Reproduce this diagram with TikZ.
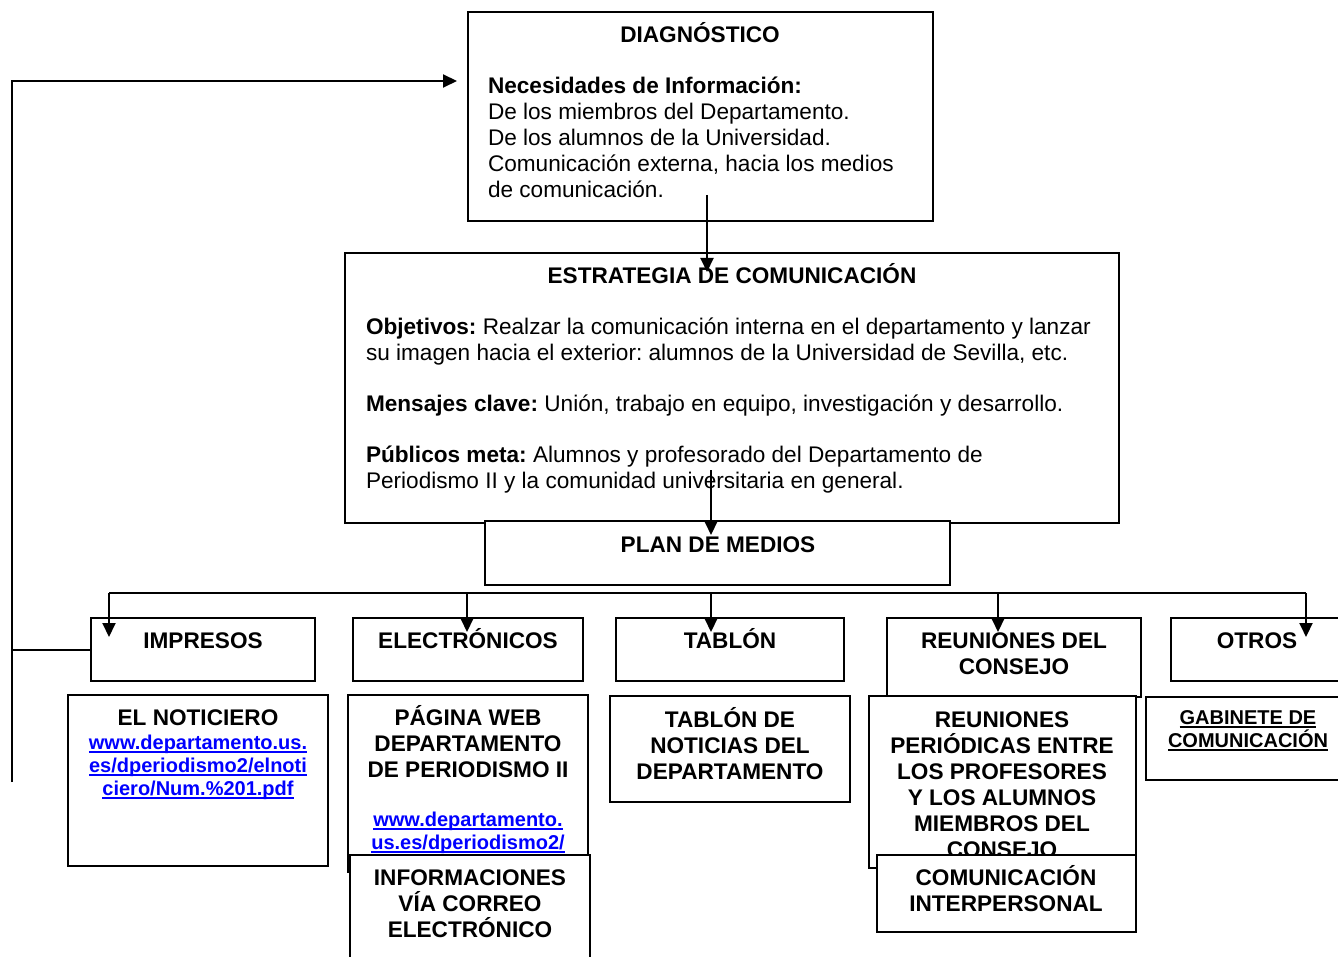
\documentclass[tikz,border=0pt]{standalone}
\usepackage{fontspec}
\setmainfont{Liberation Sans}
\usetikzlibrary{arrows.meta,fit}
\definecolor{linkblue}{RGB}{0,0,255}
\newcommand\bfont{\fontsize{11.3}{13}\selectfont\frenchspacing}
\newcommand\sfont{\fontsize{10}{11.5}\selectfont\frenchspacing}
\newcommand\fl{\rule{0pt}{10pt}}
\newcommand\ulk[1]{\setbox0\hbox{#1}\rlap{\rule[-1.7pt]{\wd0}{0.9pt}}\box0}
\begin{document}
\begin{tikzpicture}[x=0.5pt,y=-0.5pt,line width=1pt,
  box/.style={draw,line width=1pt,fill=white,inner sep=0pt},
  lbl/.style={inner sep=0pt,anchor=north,align=center,font=\bfont\bfseries,yshift=0.6pt},
  body/.style={inner sep=0pt,anchor=north west,align=left,font=\bfont,yshift=0.6pt},
  lnk/.style={inner sep=0pt,anchor=north,align=center,font=\sfont\bfseries,text=linkblue,yshift=0.6pt},
  arr/.style={-{Triangle[length=7pt,width=6.5pt]},line width=1pt}]
\useasboundingbox (0,0) rectangle (1338,957);
\clip (0,0) rectangle (1338,957);
% ---------- top boxes
\node[box,fit={(468,12) (933,221)}] (diag) {};
\node[lbl] (diagT) at (700,23) {\fl DIAGNÓSTICO};
\node[body] (diagB) at (487,74) {\fl\textbf{Necesidades de Información:}\\De los miembros del Departamento.\\De los alumnos de la Universidad.\\Comunicación externa, hacia los medios\\de comunicación.};

\node[box,fit={(345,253) (1119,523)}] (estr) {};
\node[lbl] (estrT) at (732,264) {\fl ESTRATEGIA DE COMUNICACIÓN};
\node[body] (obj) at (365,315) {\fl\textbf{Objetivos:} Realzar la comunicación interna en el departamento y lanzar\\su imagen hacia el exterior: alumnos de la Universidad de Sevilla, etc.};
\node[body] (msj) at (365,392) {\fl\textbf{Mensajes clave:} Unión, trabajo en equipo, investigación y desarrollo.};
\node[body] (pub) at (365,443) {\fl\textbf{Públicos meta:} Alumnos y profesorado del Departamento de\\Periodismo II y la comunidad universitaria en general.};

\node[box,fit={(485,521) (950,585)}] (plan) {};
\node[lbl] (planT) at (718,533) {\fl PLAN DE MEDIOS};

% ---------- row 1
\node[box,fit={(91,618) (315,681)}] (impr) {};
\node[lbl] (imprT) at (203,629) {\fl IMPRESOS};
\node[box,fit={(353,618) (583,681)}] (elec) {};
\node[lbl] (elecT) at (468,629) {\fl ELECTRÓNICOS};
\node[box,fit={(616,618) (844,681)}] (tabl) {};
\node[lbl] (tablT) at (730,629) {\fl TABLÓN};
\node[box,fit={(887,618) (1141,697)}] (reun) {};
\node[lbl] (reunT) at (1014,629) {\fl REUNIONES DEL\\CONSEJO};
\node[box,fit={(1171,618) (1350,681)}] (otro) {};
\node[lbl] (otroT) at (1257,629) {\fl OTROS};

% ---------- row 2
\node[box,fit={(68,695) (328,866)}] (noti) {};
\node[lbl] (notiT) at (198,706) {\fl EL NOTICIERO};
\node[lnk] (notiL) at (198,730) {\fl\ulk{www.departamento.us.}\\\ulk{es/dperiodismo2/elnoti}\\\ulk{ciero/Num.\%201.pdf}};

\node[box,fit={(348,695) (588,872)}] (web) {};
\node[lbl] (webT) at (468,706) {\fl PÁGINA WEB\\DEPARTAMENTO\\DE PERIODISMO II};
\node[lnk] (webL) at (468,807) {\fl\ulk{www.departamento.}\\\ulk{us.es/dperiodismo2/}};
\node[box,fit={(350,855) (590,970)}] (info) {};
\node[lbl] (infoT) at (470,866) {\fl INFORMACIONES\\VÍA CORREO\\ELECTRÓNICO};

\node[box,fit={(610,696) (850,802)}] (tabn) {};
\node[lbl] (tabnT) at (730,708) {\fl TABLÓN DE\\NOTICIAS DEL\\DEPARTAMENTO};

\node[box,fit={(869,696) (1136,868)}] (reup) {};
\node[lbl] (reupT) at (1002,708) {\fl REUNIONES\\PERIÓDICAS ENTRE\\LOS PROFESORES\\Y LOS ALUMNOS\\MIEMBROS DEL\\CONSEJO};
\node[box,fit={(877,855) (1136,932)}] (comi) {};
\node[lbl] (comiT) at (1006,866) {\fl COMUNICACIÓN\\INTERPERSONAL};

\node[box,fit={(1146,697) (1350,780)}] (gabi) {};
\node[lbl,font=\sfont\bfseries] (gabiT) at (1248,705) {\fl\ulk{GABINETE DE}\\\ulk{COMUNICACIÓN}};

% ---------- connectors
\coordinate (fbBot) at (12,782);
\coordinate (fbTop) at (12,81);
\coordinate (fbTip) at (457,81);
\draw[arr] (fbBot) -- (fbTop) -- (fbTip);
\draw (impr.west) -- (impr.west -| fbBot);

\coordinate (d1) at (707,195);
\coordinate (d2) at (707,272);
\draw[arr] (d1) -- (d2);
\coordinate (e1) at (711,470);
\coordinate (e2) at (711,535);
\draw[arr] (e1) -- (e2);

\coordinate (busL) at (109,593);
\coordinate (busR) at (1306,593);
\draw (busL) -- (busR);
\coordinate (tImpr) at (109,637);
\coordinate (bElec) at (467,593);
\coordinate (tElec) at (467,632);
\coordinate (bTabl) at (711,593);
\coordinate (tTabl) at (711,632);
\coordinate (bReun) at (998,593);
\coordinate (tReun) at (998,632);
\coordinate (tOtro) at (1306,637);
\draw[arr] (busL) -- (tImpr);
\draw[arr] (bElec) -- (tElec);
\draw[arr] (bTabl) -- (tTabl);
\draw[arr] (bReun) -- (tReun);
\draw[arr] (busR) -- (tOtro);
\end{tikzpicture}
\end{document}
